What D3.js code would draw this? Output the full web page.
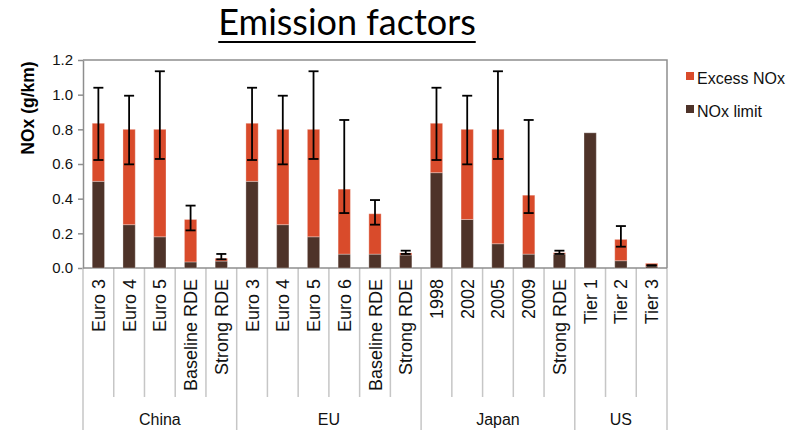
<!DOCTYPE html>
<html>
<head>
<meta charset="utf-8">
<script src="https://cdn.jsdelivr.net/npm/d3@7"></script>
<style>
  body { margin: 0; background: #fff; }
  text { font-family: "Liberation Sans", Arial, sans-serif; }
</style>
</head>
<body>
<div id="chart"></div>
<script>
const categories = ["Euro 3", "Euro 4", "Euro 5", "Baseline RDE", "Strong RDE",
    "Euro 3", "Euro 4", "Euro 5", "Euro 6", "Baseline RDE", "Strong RDE",
    "1998", "2002", "2005", "2009", "Strong RDE",
    "Tier 1", "Tier 2", "Tier 3"];
const groups = ["China", "EU", "Japan", "US"];
const groupSizes = [5, 6, 5, 3];

const noxLimit = [0.50, 0.25, 0.18, 0.035, 0.04,
    0.50, 0.25, 0.18, 0.08, 0.08, 0.075,
    0.55, 0.28, 0.14, 0.08, 0.08,
    0.78, 0.042, 0.010];
const excessNox = [0.335, 0.55, 0.62, 0.245, 0.016,
    0.335, 0.55, 0.62, 0.375, 0.233, 0.012,
    0.285, 0.52, 0.66, 0.34, 0.008,
    0, 0.123, 0.017];
const errLow = [0.623, 0.598, 0.629, 0.217, 0.05,
    0.623, 0.598, 0.629, 0.317, 0.25, 0.081,
    0.623, 0.598, 0.629, 0.317, 0.081,
    null, 0.123, 0.013];
const errHigh = [1.04, 0.994, 1.135, 0.36, 0.081,
    1.04, 0.994, 1.135, 0.854, 0.392, 0.10,
    1.04, 0.994, 1.135, 0.854, 0.10,
    null, 0.242, 0.016];
const yTicks = [0, 0.2, 0.4, 0.6, 0.8, 1.0, 1.2];
const seriesNames = ["Excess NOx", "NOx limit"];

const W = 803, H = 430;
const margin = { top: 60, right: 136, bottom: 162, left: 83 };
const width = W - margin.left - margin.right;
const height = H - margin.top - margin.bottom;

const svg = d3.select("#chart")
    .append("svg")
    .attr("width", W)
    .attr("height", H)
    .style("background", "#fff");

const g = svg.append("g")
    .attr("transform", `translate(${margin.left},${margin.top})`);

const color = d3.scaleOrdinal()
    .domain(seriesNames)
    .range(["#d94b2b", "#4e3329"]);

const data = categories.map((c, i) => ({
    idx: i, cat: c, limit: noxLimit[i], excess: excessNox[i], lo: errLow[i], hi: errHigh[i]
}));

const stacked = d3.stack()
    .keys(["limit", "excess"])(data);

// scales
const x = d3.scaleBand()
    .domain(data.map(d => d.idx))
    .range([0, width])
    .paddingInner(0.6)
    .paddingOuter(0.3);
const step = x.step();
const edge = i => x(i) + x.bandwidth() / 2 - step / 2;

const y = d3.scaleLinear()
    .domain([0, 1.2])
    .range([height, 0]);

// frame (top + right) and left axis
g.append("path")
    .attr("d", `M0,0H${width}V${height}`)
    .attr("fill", "none")
    .attr("stroke", "#8e8e8e")
    .attr("stroke-width", 1.5);

const yAxis = g.append("g")
    .call(d3.axisLeft(y).tickValues(yTicks).tickFormat(d3.format(".1f")).tickSize(5).tickSizeOuter(0));
yAxis.select(".domain").attr("stroke", "#8e8e8e").attr("stroke-width", 1.5);
yAxis.selectAll(".tick line").attr("stroke", "#8e8e8e").attr("stroke-width", 1.5);
yAxis.selectAll(".tick text")
    .attr("x", -10)
    .style("font-size", "15px")
    .style("font-family", "'Liberation Sans', Arial, sans-serif")
    .attr("fill", "#111");

svg.append("text")
    .attr("transform", `translate(34,${margin.top + 48}) rotate(-90)`)
    .attr("text-anchor", "middle")
    .style("font-size", "17.5px")
    .style("font-weight", "bold")
    .text("NOx (g/km)");

// category separators
const bottomG = g.append("g");
const groupStarts = [0];
groupSizes.forEach((s, i) => groupStarts.push(groupStarts[i] + s));
for (let i = 0; i <= categories.length; i++) {
    const xx = i < categories.length ? edge(i) : edge(i - 1) + step;
    const isGroup = groupStarts.includes(i);
    bottomG.append("line")
        .attr("x1", xx).attr("x2", xx)
        .attr("y1", height)
        .attr("y2", isGroup ? H - margin.top : height + 129)
        .attr("stroke", "#c6c6c6")
        .attr("stroke-width", 1.5);
}
bottomG.append("line")
    .attr("x1", 0).attr("x2", width)
    .attr("y1", height).attr("y2", height)
    .attr("stroke", "#8e8e8e")
    .attr("stroke-width", 1.5);

// category labels
bottomG.selectAll("text.cat")
    .data(data)
    .join("text")
    .attr("class", "cat")
    .attr("transform", d => `translate(${x(d.idx) + x.bandwidth() / 2 + 6.5},${height + 11}) rotate(-90)`)
    .attr("text-anchor", "end")
    .style("font-size", "18px")
    .attr("fill", "#111")
    .text(d => d.cat);

// group labels
groups.forEach((gr, i) => {
    const x0 = edge(groupStarts[i]);
    const x1 = edge(groupStarts[i + 1] - 1) + step;
    bottomG.append("text")
        .attr("x", (x0 + x1) / 2)
        .attr("y", H - margin.top - 5)
        .attr("text-anchor", "middle")
        .style("font-size", "16px")
        .attr("fill", "#111")
        .text(gr);
});

// bars
const layers = g.append("g")
    .selectAll("g")
    .data(stacked)
    .join("g")
    .attr("fill", d => color(d.key === "limit" ? "NOx limit" : "Excess NOx"));

layers.selectAll("rect")
    .data(d => d.filter(v => v[1] - v[0] > 0))
    .join("rect")
    .attr("x", d => x(d.data.idx))
    .attr("y", d => y(d[1]))
    .attr("width", x.bandwidth())
    .attr("height", d => y(d[0]) - y(d[1]))
    .attr("stroke", "rgba(255,255,255,0.3)")
    .attr("stroke-width", 1);

// error bars
const errs = g.append("g")
    .selectAll("g")
    .data(data.filter(d => d.lo != null))
    .join("g")
    .attr("stroke", "#000")
    .attr("stroke-width", 1.8);
const cx = d => x(d.idx) + x.bandwidth() / 2;
errs.append("line")
    .attr("x1", cx).attr("x2", cx)
    .attr("y1", d => y(d.lo)).attr("y2", d => y(d.hi));
errs.append("line")
    .attr("x1", d => cx(d) - 5).attr("x2", d => cx(d) + 5)
    .attr("y1", d => y(d.hi)).attr("y2", d => y(d.hi));
errs.append("line")
    .attr("x1", d => cx(d) - 5).attr("x2", d => cx(d) + 5)
    .attr("y1", d => y(d.lo)).attr("y2", d => y(d.lo));

// legend
seriesNames.forEach((s, i) => {
    svg.append("rect")
        .attr("x", 686)
        .attr("y", 72 + i * 33)
        .attr("width", 8)
        .attr("height", 8)
        .attr("fill", color(s));
    svg.append("text")
        .attr("x", 697)
        .attr("y", 84 + i * 33)
        .style("font-size", "16px")
        .attr("fill", "#111")
        .text(s);
});

// title
const title = svg.append("text")
    .attr("x", 347)
    .attr("y", 35)
    .attr("text-anchor", "middle")
    .style("font-family", "Lato, 'Open Sans', sans-serif")
    .style("font-size", "36px")
    .attr("fill", "#000")
    .text("Emission factors");
const tw = title.node().getComputedTextLength();
svg.append("line")
    .attr("x1", 347 - tw / 2).attr("x2", 347 + tw / 2)
    .attr("y1", 42).attr("y2", 42)
    .attr("stroke", "#000")
    .attr("stroke-width", 2.2);
</script>
</body>
</html>
